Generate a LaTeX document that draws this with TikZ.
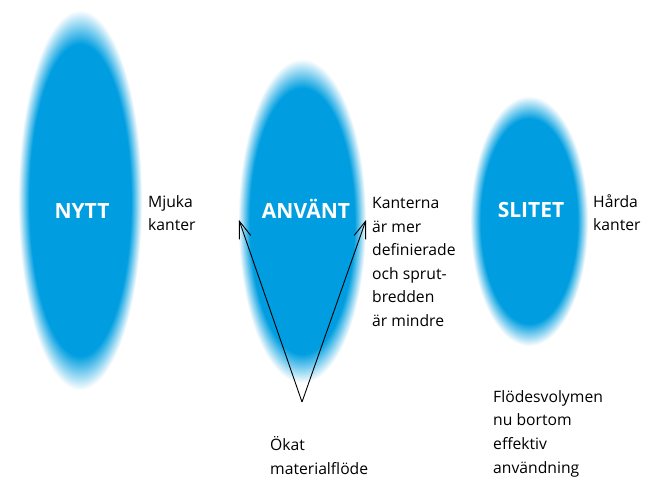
\documentclass[tikz,border=0pt]{standalone}
\usepackage{fontspec}
\setmainfont{Open Sans}
\usetikzlibrary{arrows.meta,shapes.geometric}
\definecolor{myblue}{RGB}{0,158,224}
\pgfdeclareradialshading{softblue}{\pgfpoint{0bp}{0bp}}{color(0bp)=(myblue); color(20.5bp)=(myblue); color(25bp)=(white); color(50bp)=(white)}
\tikzset{
  blob/.style={ellipse, inner sep=0pt, shading=softblue},
  stage/.style={font=\fontsize{21}{24}\selectfont\bfseries, text=white, inner sep=0pt, anchor=base},
  note/.style={font=\fontsize{15.7}{23.6}\selectfont, align=left, inner sep=0pt, anchor=base west},
  flow/.style={line width=0.9pt, -{Straight Barb[length=17pt,width=12pt]}}
}
\begin{document}
\begin{tikzpicture}[x=1pt,y=-1pt]
\useasboundingbox[fill=white] (0,0) rectangle (657,477);
\node[blob, minimum width=124pt, minimum height=380pt] (e1) at (80,200) {};
\node[blob, minimum width=128pt, minimum height=324pt] (e2) at (302,221) {};
\node[blob, minimum width=118pt, minimum height=250pt] (e3) at (529,221) {};
\node[stage] (nytt) at (82,218) {NYTT};
\node[stage] (anvant) at (306,218) {ANVÄNT};
\node[stage] (slitet) at (531,217) {SLITET};
\node[note] (mjuka) at (148,230.6) {Mjuka\\kanter};
\node[note] (kanterna) at (372,326.5) {Kanterna\\är mer\\definierade\\och sprut-\\bredden\\är mindre};
\node[note] (harda) at (593,230.6) {Hårda\\kanter};
\node[note] (okat) at (270,474.2) {Ökat\\materialflöde};
\node[note] (flodes) at (493,473) {Flödesvolymen\\nu bortom\\effektiv\\användning};
\coordinate (apex) at (302,402);
\coordinate (tipL) at (239,220);
\coordinate (tipR) at (366,220);
\draw[flow] (apex) -- (tipL);
\draw[flow] (apex) -- (tipR);
\end{tikzpicture}
\end{document}
